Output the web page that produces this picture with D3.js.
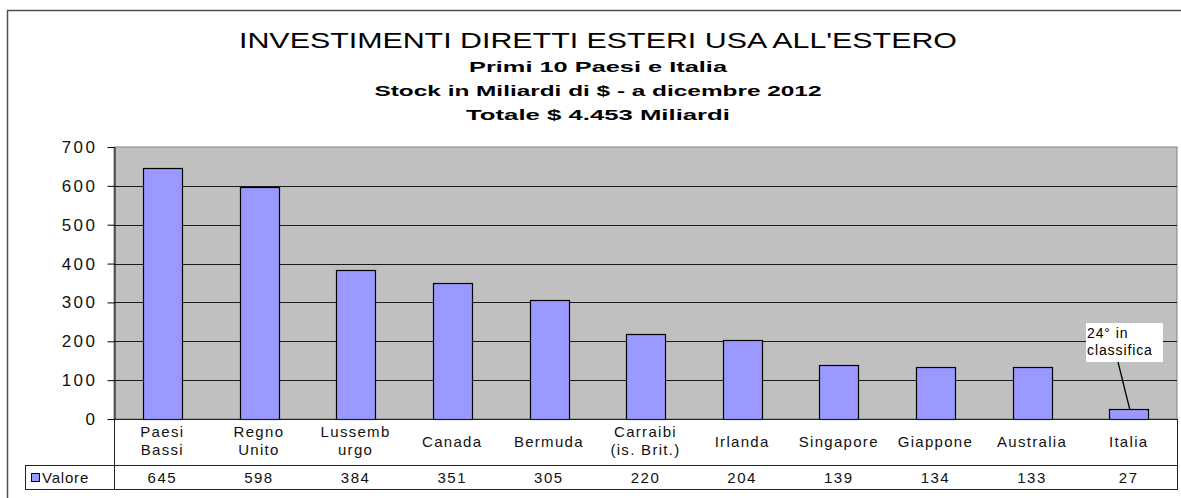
<!DOCTYPE html>
<html><head><meta charset="utf-8">
<script src="https://cdn.jsdelivr.net/npm/d3@7"></script>
<style>
body{margin:0;background:#fff;}
svg{display:block;font-family:"Liberation Sans",Arial,sans-serif;}
</style></head>
<body>
<svg id="chart" width="1181" height="498"></svg>
<script>
const categories = [["Paesi","Bassi"],["Regno","Unito"],["Lussemb","urgo"],["Canada"],["Bermuda"],["Carraibi","(is. Brit.)"],["Irlanda"],["Singapore"],["Giappone"],["Australia"],["Italia"]];
const values = [645,598,384,351,305,220,204,139,134,133,27];
const yTicks = [0,100,200,300,400,500,600,700];
const seriesName = "Valore";
const titleLines = ["INVESTIMENTI DIRETTI ESTERI USA ALL'ESTERO","Primi 10 Paesi e Italia","Stock in Miliardi di $ - a dicembre 2012","Totale $ 4.453 Miliardi"];
const annotation = ["24° in","classifica"];

const svg = d3.select("#chart");
const L = 114, R = 1177, T = 147, B = 419;
const ids = d3.range(categories.length);
const x = d3.scaleBand().domain(ids).range([L, R]).paddingInner(0.6).paddingOuter(0.3);
const xb = d3.scaleBand().domain(ids).range([L, R]);
const y = d3.scaleLinear().domain([0, 700]).range([B, T]);

// outer border
svg.append("rect").attr("x", 7.5).attr("y", 10.5).attr("width", 1190).attr("height", 500)
  .attr("fill", "none").attr("stroke", "#505050").attr("stroke-width", 1.5);

// titles
const tl = [{t:titleLines[0], y:48, s:22, w:"normal", len:718},
            {t:titleLines[1], y:72, s:15.5, w:"bold", len:258},
            {t:titleLines[2], y:96, s:15.5, w:"bold", len:447},
            {t:titleLines[3], y:120, s:15.5, w:"bold", len:264}];
svg.selectAll("text.title").data(tl).join("text").attr("class","title")
  .attr("x", 598).attr("y", d => d.y).attr("text-anchor","middle")
  .attr("font-size", d => d.s).attr("font-weight", d => d.w).attr("fill","#000")
  .attr("textLength", d => d.len).attr("lengthAdjust","spacingAndGlyphs")
  .text(d => d.t);

// plot background
svg.append("rect").attr("x", L).attr("y", T).attr("width", R - L).attr("height", B - T)
  .attr("fill", "#c0c0c0").attr("stroke", "#808080").attr("stroke-width", 1);

// gridlines
svg.append("g").selectAll("line").data(yTicks.filter(v => v > 0 && v < 700)).join("line")
  .attr("x1", L).attr("x2", R).attr("y1", d => Math.round(y(d)) + 0.5).attr("y2", d => Math.round(y(d)) + 0.5)
  .attr("stroke", "#1a1a1a").attr("stroke-width", 1);

// y axis
const yAxis = svg.append("g").attr("transform", `translate(${L + 0.5},0)`)
  .call(d3.axisLeft(y).tickValues(yTicks).tickSize(7).tickPadding(12).tickSizeOuter(0));
yAxis.select(".domain").attr("stroke", "#000");
yAxis.selectAll(".tick line").attr("stroke", "#000");
yAxis.selectAll(".tick text").attr("font-size", 17).attr("fill", "#111")
  .attr("font-family", "'Liberation Sans',Arial,sans-serif").attr("letter-spacing", "2.5px").attr("dx", "2px");

// bars
svg.append("g").selectAll("rect").data(values).join("rect")
  .attr("x", (d, i) => Math.round(x(i)) + 0.5).attr("width", Math.round(x.bandwidth()))
  .attr("y", d => Math.round(y(d)) + 0.5).attr("height", d => Math.round(y(0)) - Math.round(y(d)))
  .attr("fill", "#9999ff").attr("stroke", "#000").attr("stroke-width", 1.2);

// data table
const tableLines = [
  [L, 419.5, R, 419.5], [25, 465.5, R, 465.5], [25, 489.5, R, 489.5],
  [L + 0.5, 419, L + 0.5, 490], [25.5, 465, 25.5, 490], [R + 0.5, 419, R + 0.5, 490]
];
svg.append("g").selectAll("line").data(tableLines).join("line")
  .attr("x1", d => d[0]).attr("y1", d => d[1]).attr("x2", d => d[2]).attr("y2", d => d[3])
  .attr("stroke", "#202020").attr("stroke-width", 1);

// category labels
const cat = svg.append("g").selectAll("text").data(categories).join("text")
  .attr("text-anchor", "middle").attr("font-size", 15).attr("fill", "#111").attr("letter-spacing", "1.3px")
  .attr("x", (d, i) => xb(i) + xb.bandwidth() / 2)
  .attr("y", d => d.length === 2 ? 437 : 447);
cat.selectAll("tspan").data(d => d).join("tspan")
  .attr("x", function() { return d3.select(this.parentNode).attr("x"); })
  .attr("dy", (d, j) => j === 0 ? 0 : 18).text(d => d);

// values row
svg.append("g").selectAll("text").data(values).join("text")
  .attr("text-anchor", "middle").attr("font-size", 15).attr("fill", "#111").attr("letter-spacing", "1.5px")
  .attr("x", (d, i) => xb(i) + xb.bandwidth() / 2).attr("y", 483).text(d => d);

// legend key
svg.append("rect").attr("x", 31.5).attr("y", 473.5).attr("width", 8).attr("height", 8)
  .attr("fill", "#9999ff").attr("stroke", "#000").attr("stroke-width", 1);
svg.append("text").attr("x", 42).attr("y", 483).attr("font-size", 15).attr("fill", "#111")
  .attr("letter-spacing", "0.8px").text(seriesName);

// annotation
const ia = ids.length - 1;
const cx = xb(ia) + xb.bandwidth() / 2;
svg.append("line").attr("x1", 1118).attr("y1", 362).attr("x2", cx + 1).attr("y2", Math.round(y(values[ia])))
  .attr("stroke", "#000").attr("stroke-width", 1.3);
svg.append("rect").attr("x", 1086).attr("y", 323).attr("width", 77).attr("height", 39).attr("fill", "#fff");
svg.append("g").selectAll("text").data(annotation).join("text")
  .attr("x", 1087).attr("y", (d, i) => 338 + i * 17).attr("font-size", 14).attr("fill", "#000")
  .attr("letter-spacing", "0.9px").text(d => d);
</script>
</body></html>
